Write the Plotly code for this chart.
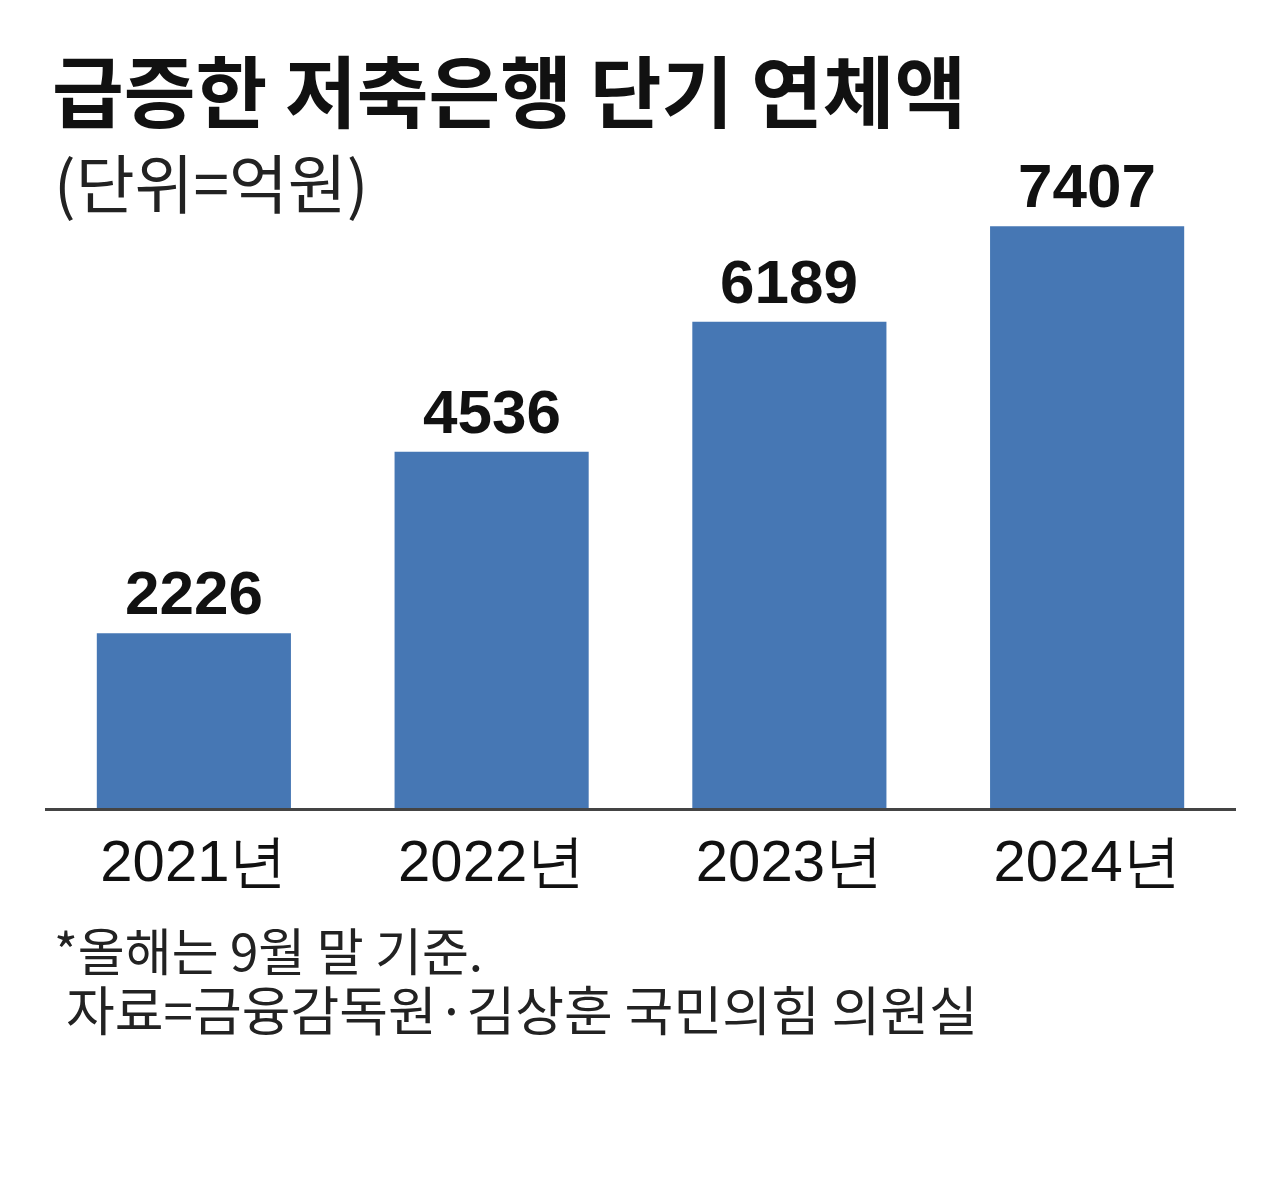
import plotly.graph_objects as go

categories = ["2021년", "2022년", "2023년", "2024년"]
values = [2226, 4536, 6189, 7407]
value_labels = ["2226", "4536", "6189", "7407"]

title = "급증한 저축은행 단기 연체액"
subtitle = "(단위=억원)"
note1 = "*올해는 9월 말 기준."
note2 = "자료=금융감독원·김상훈 국민의힘 의원실"

W, H = 1280, 1178
L, R = 45, 1236
T, B = 100.6, 808
YMAX = 9000

def px(xp):
    return (xp - L) / (R - L)

def py(yp):
    return (B - yp) / (B - T)

bar_color = "#4677b4"
num_font = "Liberation Sans, Arial, sans-serif"
kr = "Noto Sans CJK KR, Noto Sans, sans-serif"

fig = go.Figure()
fig.add_trace(go.Bar(
    x=categories, y=values, marker=dict(color=bar_color, line=dict(width=0)),
    width=0.652, hoverinfo="skip",
))

for c, v, t in zip(categories, values, value_labels):
    fig.add_annotation(x=c, y=v, text=f"<b>{t}</b>", showarrow=False, yanchor="bottom",
                       yshift=4, font=dict(family=num_font, size=62, color="#111"),
                       xref="x", yref="y")

fig.add_annotation(x=px(50), y=py(30), xref="paper", yref="paper", text=f"<b>{title}</b>",
                   showarrow=False, xanchor="left", yanchor="top",
                   font=dict(family=kr, size=78, color="#111"))
fig.add_annotation(x=px(52), y=py(132), xref="paper", yref="paper", text=subtitle,
                   showarrow=False, xanchor="left", yanchor="top",
                   font=dict(family=kr, size=64, color="#222"))
fig.add_annotation(x=px(52), y=py(910), xref="paper", yref="paper", text=note1,
                   showarrow=False, xanchor="left", yanchor="top",
                   font=dict(family=kr, size=51, color="#222"))
fig.add_annotation(x=px(64), y=py(968), xref="paper", yref="paper", text=note2,
                   showarrow=False, xanchor="left", yanchor="top",
                   font=dict(family=kr, size=53, color="#222"))

fig.update_layout(
    width=W, height=H,
    margin=dict(l=L, r=W - R, t=T, b=H - B, pad=0),
    paper_bgcolor="white", plot_bgcolor="white",
    showlegend=False,
    xaxis=dict(showline=True, linecolor="#444", linewidth=3, ticks="",
               tickfont=dict(family=num_font, size=58, color="#111"),
               showgrid=False, zeroline=False, fixedrange=True,
               ticklabelstandoff=0),
    yaxis=dict(range=[0, YMAX], visible=False, showgrid=False, zeroline=False,
               fixedrange=True),
)

fig.write_html("out.html", config={"displayModeBar": False})
